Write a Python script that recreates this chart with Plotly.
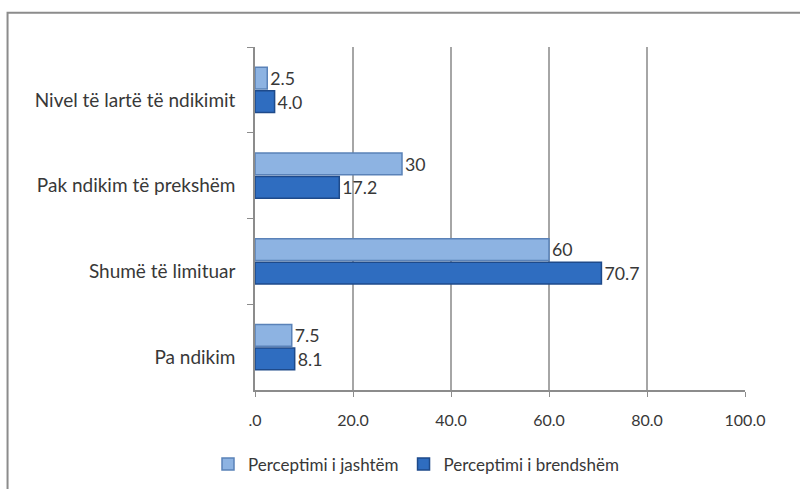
import plotly.graph_objects as go

categories = ["Nivel të lartë të ndikimit", "Pak ndikim të prekshëm", "Shumë të limituar", "Pa ndikim"]
jashtem = [2.5, 30, 60, 7.5]
jashtem_text = ["2.5", "30", "60", "7.5"]
brendshem = [4.0, 17.2, 70.7, 8.1]
brendshem_text = ["4.0", "17.2", "70.7", "8.1"]
x_ticks = [0, 20, 40, 60, 80, 100]
x_ticktext = [".0", "20.0", "40.0", "60.0", "80.0", "100.0"]

font_name = "Lato"
text_col = "#383838"

fig = go.Figure()
fig.add_trace(go.Bar(y=categories, x=jashtem, orientation="h", name="Perceptimi i jashtëm",
                     text=jashtem_text, textposition="outside", cliponaxis=False,
                     marker=dict(color="#8DB3E2", line=dict(color="#5A82B8", width=1.5))))
fig.add_trace(go.Bar(y=categories, x=brendshem, orientation="h", name="Perceptimi i brendshëm",
                     text=brendshem_text, textposition="outside", cliponaxis=False,
                     marker=dict(color="#2F6DC0", line=dict(color="#1E4A8A", width=1.5))))

fig.update_traces(textfont=dict(family=font_name, size=18, color=text_col))

fig.update_layout(
    width=800, height=489,
    margin=dict(l=255, r=55, t=47, b=99, autoexpand=False),
    paper_bgcolor="white", plot_bgcolor="white",
    barmode="group", bargap=0.45, bargroupgap=0.08,
    font=dict(family=font_name, size=16, color=text_col),
    showlegend=True,
    legend=dict(orientation="h", xref="container", yref="container", x=0.52, y=0.05,
                xanchor="center", yanchor="middle", font=dict(size=17, color=text_col),
                itemwidth=30, traceorder="normal"),
)
fig.update_xaxes(range=[0, 100], tickvals=x_ticks, ticktext=x_ticktext,
                 showgrid=True, gridcolor="#A6A6A6", gridwidth=1.5,
                 showline=True, linecolor="#8C8C8C", linewidth=1.5,
                 ticks="outside", ticklen=5, tickcolor="#8C8C8C", ticklabelstandoff=10,
                 tickfont=dict(size=16), zeroline=False)
fig.update_yaxes(range=[3.5, -0.5], showline=True, linecolor="#8C8C8C", linewidth=1.5,
                 ticks="outside", ticklen=6, tickcolor="#8C8C8C", tickson="boundaries",
                 ticklabelstandoff=14, tickfont=dict(size=19), ticklabelshift=-10,
                 showgrid=False)

# outer chart frame
fig.add_shape(type="rect", xref="paper", yref="paper", x0=-0.505, x1=1.2, y0=-0.4, y1=1.1,
              line=dict(color="#8C8C8C", width=2), fillcolor="rgba(0,0,0,0)", layer="below")

fig.write_html("out.html", config={"displayModeBar": False},
               post_script="document.body.style.margin='0';")
